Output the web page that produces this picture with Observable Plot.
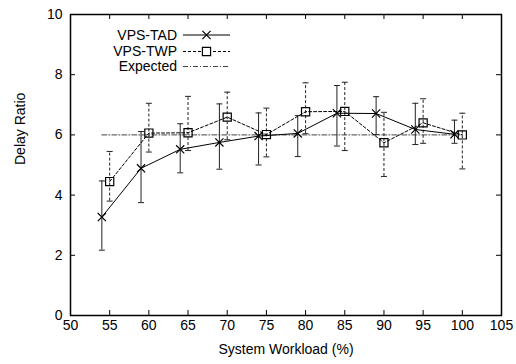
<!DOCTYPE html>
<html>
<head>
<meta charset="utf-8">
<script src="https://cdn.jsdelivr.net/npm/d3@7"></script>
<script src="https://cdn.jsdelivr.net/npm/@observablehq/plot@0.6"></script>
<style>
  html, body { margin: 0; padding: 0; background: white; }
</style>
</head>
<body>
<div id="chart"></div>
<script>
// ---- data ----
const xTAD  = [54, 59, 64, 69, 74, 79, 84, 89, 94, 99];
const yTAD  = [3.27, 4.89, 5.52, 5.75, 5.96, 6.05, 6.72, 6.71, 6.18, 6.02];
const loTAD = [2.17, 3.75, 4.74, 4.86, 5.00, 5.28, 5.63, 6.01, 5.68, 5.72];
const hiTAD = [4.47, 6.11, 6.37, 7.03, 6.73, 6.64, 7.64, 7.27, 7.05, 6.49];

const xTWP  = [55, 60, 65, 70, 75, 80, 85, 90, 95, 100];
const yTWP  = [4.45, 6.06, 6.07, 6.59, 6.01, 6.77, 6.78, 5.74, 6.40, 6.00];
const loTWP = [3.80, 5.43, 5.48, 5.84, 5.27, 6.04, 5.48, 4.62, 5.72, 4.87];
const hiTWP = [5.45, 7.05, 7.28, 7.42, 6.89, 7.73, 7.75, 6.75, 7.20, 6.72];

const xExpected = [54, 100];
const yExpected = [6, 6];

const xTicks = [50, 55, 60, 65, 70, 75, 80, 85, 90, 95, 100, 105];
const yTicks = [0, 2, 4, 6, 8, 10];

const seriesNames = ["VPS-TAD", "VPS-TWP", "Expected"];
const xLabel = "System Workload (%)";
const yLabel = "Delay Ratio";

// ---- tables ----
const tad = xTAD.map((x, i) => ({x, y: yTAD[i], lo: loTAD[i], hi: hiTAD[i]}));
const twp = xTWP.map((x, i) => ({x, y: yTWP[i], lo: loTWP[i], hi: hiTWP[i]}));
const expected = xExpected.map((x, i) => ({x, y: yExpected[i]}));

const W = 516, H = 364;
const mL = 70, mR = 15, mT = 14, mB = 49;
const frameH = H - mT - mB;
const frameW = W - mL - mR;
const TK = 5;

const cap = {draw(ctx) { ctx.moveTo(-3, 0); ctx.lineTo(3, 0); }};
const font = "'Liberation Sans', Arial, Helvetica, sans-serif";

const chart = Plot.plot({
  width: W, height: H,
  marginLeft: mL, marginRight: mR, marginTop: mT, marginBottom: mB,
  style: {fontFamily: font, fontSize: "14px", background: "white", color: "black"},
  x: {domain: [50, 105], label: null},
  y: {domain: [0, 10], label: null},
  marks: [
    Plot.axisX(xTicks, {tickSize: 0, tickPadding: 5, fontSize: 14, tickFormat: d => String(d), label: null}),
    Plot.axisY(yTicks, {tickSize: 0, tickPadding: 8, fontSize: 14, tickFormat: d => String(d), label: null}),
    // inward ticks on all four sides
    Plot.tickX(xTicks, {x: d => d, insetTop: frameH - TK, stroke: "black"}),
    Plot.tickX(xTicks, {x: d => d, insetBottom: frameH - TK, stroke: "black"}),
    Plot.tickY(yTicks, {y: d => d, insetRight: frameW - TK, stroke: "black"}),
    Plot.tickY(yTicks, {y: d => d, insetLeft: frameW - TK, stroke: "black"}),
    // expected
    Plot.line(expected, {x: "x", y: "y", stroke: "#444", strokeWidth: 1, strokeDasharray: "5,2,1,2"}),
    // TAD error bars
    Plot.ruleX(tad, {x: "x", y1: "lo", y2: "hi", stroke: "#222", strokeWidth: 1}),
    Plot.dot(tad, {x: "x", y: "lo", symbol: cap, stroke: "#222", strokeWidth: 1}),
    Plot.dot(tad, {x: "x", y: "hi", symbol: cap, stroke: "#222", strokeWidth: 1}),
    // TWP error bars
    Plot.ruleX(twp, {x: "x", y1: "lo", y2: "hi", stroke: "#222", strokeWidth: 1, strokeDasharray: "3,2"}),
    Plot.dot(twp, {x: "x", y: "lo", symbol: cap, stroke: "#222", strokeWidth: 1}),
    Plot.dot(twp, {x: "x", y: "hi", symbol: cap, stroke: "#222", strokeWidth: 1}),
    // lines
    Plot.line(tad, {x: "x", y: "y", stroke: "black", strokeWidth: 1}),
    Plot.line(twp, {x: "x", y: "y", stroke: "black", strokeWidth: 1, strokeDasharray: "3,2"}),
    // markers
    Plot.dot(tad, {x: "x", y: "y", symbol: "times", r: 3.8, stroke: "black", strokeWidth: 1.2}),
    Plot.dot(twp, {x: "x", y: "y", symbol: "square", r: 4.6, stroke: "black", fill: "none", strokeWidth: 1.2}),
    Plot.frame({stroke: "black", strokeWidth: 1.5}),
    // axis titles
    Plot.text([xLabel], {text: d => d, frameAnchor: "bottom", dy: 38, fontSize: 14}),
    Plot.text([yLabel], {text: d => d, frameAnchor: "left", dx: -50, rotate: -90, fontSize: 14})
  ]
});

document.getElementById("chart").appendChild(chart);

// ---- legend (inside top-left) ----
const svg = d3.select(chart);
const lg = svg.append("g").attr("font-family", font).attr("font-size", 14);
const rows = [35, 51.5, 66.5];
const textX = 177, l1 = 183, l2 = 230, mx = 206.5;
rows.forEach((ry, i) => {
  lg.append("text").attr("x", textX).attr("y", ry).attr("dy", "0.35em")
    .attr("text-anchor", "end").attr("fill", "black").text(seriesNames[i]);
});
lg.append("line").attr("x1", l1).attr("x2", l2).attr("y1", rows[0]).attr("y2", rows[0])
  .attr("stroke", "black").attr("stroke-width", 1);
lg.append("path").attr("transform", `translate(${mx},${rows[0]})`)
  .attr("d", d3.symbol(d3.symbolTimes, 3.8 * 3.8 * Math.PI)())
  .attr("stroke", "black").attr("fill", "none").attr("stroke-width", 1.2);
lg.append("line").attr("x1", l1).attr("x2", l2).attr("y1", rows[1]).attr("y2", rows[1])
  .attr("stroke", "black").attr("stroke-width", 1).attr("stroke-dasharray", "3,2");
lg.append("path").attr("transform", `translate(${mx},${rows[1]})`)
  .attr("d", d3.symbol(d3.symbolSquare, 4.6 * 4.6 * Math.PI)())
  .attr("stroke", "black").attr("fill", "white").attr("stroke-width", 1.2);
lg.append("line").attr("x1", l1).attr("x2", l2).attr("y1", rows[2]).attr("y2", rows[2])
  .attr("stroke", "#444").attr("stroke-width", 1).attr("stroke-dasharray", "5,2,1,2");
</script>
</body>
</html>
